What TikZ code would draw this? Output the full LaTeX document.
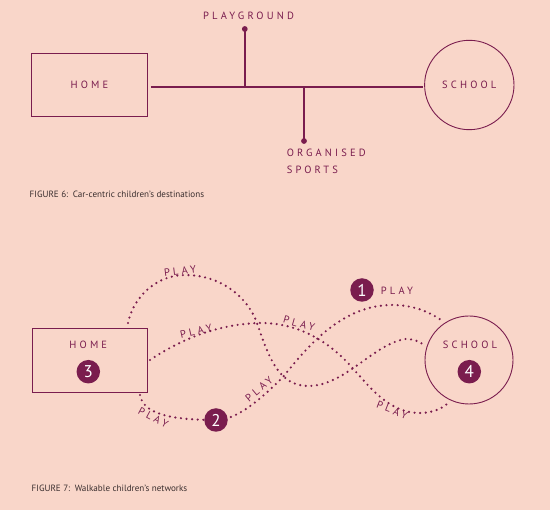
\documentclass[tikz,border=0pt]{standalone}
\usepackage{fontspec}
\setmainfont{PT Sans}
\newfontfamily\lblfont[LetterSpace=30]{PT Sans}
\newfontfamily\capfont{PT Sans}
\definecolor{bg}{HTML}{F9D6C9}
\definecolor{maroon}{HTML}{7A1D4E}
\definecolor{captxt}{HTML}{3A2E2E}
\tikzset{
  lbl/.style={font=\lblfont\fontsize{10.5}{12}\selectfont, text=maroon, inner sep=0pt},
  boxnode/.style={draw=maroon, line width=0.9pt, rectangle, inner sep=0pt, font=\lblfont\fontsize{10.5}{12}\selectfont, text=maroon},
  ringnode/.style={draw=maroon, line width=0.9pt, circle, inner sep=0pt, font=\lblfont\fontsize{10.5}{12}\selectfont, text=maroon},
  route/.style={draw=maroon, line width=1.7pt},
  enddot/.style={fill=maroon},
  badge/.style={circle, fill=maroon, text=white, minimum size=23.5pt, inner sep=0pt, font=\fontsize{17}{17}\selectfont},
  walk/.style={draw=maroon, line width=2.4pt, line cap=round, dash pattern=on 0pt off 5.6pt},
  captext/.style={font=\capfont\fontsize{9.1}{10}\selectfont, text=captxt, inner sep=0pt, anchor=west}
}
\begin{document}
\begin{tikzpicture}[x=1pt,y=-1pt]
\fill[bg] (0,0) rectangle (550,510);
\useasboundingbox (0,0) rectangle (550,510);

% ---------- Figure 6 ----------
\node[boxnode, minimum width=115.7pt, minimum height=62.7pt] (home6) at (89.5,84.7) {HOME};
\node[ringnode, minimum size=89.4pt] (school6) at (469.3,85) {SCHOOL};
\coordinate (l0) at (150.8,87.3);
\coordinate (l1) at (422.7,87.3);
\coordinate (jp) at (244.8,87.3);
\coordinate (pg) at (244.8,29);
\coordinate (js) at (304,87.3);
\coordinate (sp) at (304,141);
\draw[route] (l0) -- (l1);
\draw[route] (jp) -- (pg);
\draw[route] (js) -- (sp);
\fill[enddot] (pg) circle (2.9pt);
\fill[enddot] (sp) circle (2.9pt);
\node[lbl] (pgtxt) at (248.5,15.7) {PLAYGROUND};
\node[lbl, anchor=west] (ortxt) at (286.6,153) {ORGANISED};
\node[lbl, anchor=west] (sptxt) at (286.6,170) {SPORTS};
\node[captext] (cap6) at (29.5,194.3) {FIGURE 6:\hspace{0.5em}Car-centric children’s destinations};

% ---------- Figure 7 ----------
\node[boxnode, minimum width=115pt, minimum height=64pt] (home7) at (89.5,360) {};
\node[lbl] (home7t) at (88.3,345) {HOME};
\node[ringnode, minimum size=88pt] (school7) at (469,360) {};
\node[lbl] (school7t) at (470,345.3) {SCHOOL};

\coordinate (a0) at (128,323);
\coordinate (a1) at (185,275);
\coordinate (a2) at (257,323);
\coordinate (a3) at (308,386);
\coordinate (a4) at (405,339);
\coordinate (a5) at (424,345);
\draw[walk] (a0) .. controls (134,295) and (158,275) .. (a1)
  .. controls (222,275) and (248,298) .. (a2)
  .. controls (268,355) and (278,386) .. (a3)
  .. controls (345,386) and (372,345) .. (a4)
  .. controls (413,339) and (419,341) .. (a5);

\coordinate (b0) at (150,360);
\coordinate (b1) at (257,323);
\coordinate (b2p) at (345,360);
\coordinate (b3p) at (420,413);
\coordinate (b4p) at (447,404);
\draw[walk] (b0) .. controls (180,340) and (215,325) .. (b1)
  .. controls (290,322) and (320,335) .. (b2p)
  .. controls (365,380) and (385,413) .. (b3p)
  .. controls (432,413) and (441,409) .. (b4p);

\coordinate (c0) at (140,395);
\coordinate (c1) at (216,420);
\coordinate (c2) at (283,377);
\coordinate (c3) at (392,305);
\coordinate (c4) at (441,320);
\draw[walk] (c0) .. controls (143,412) and (165,420) .. (c1)
  .. controls (236,420) and (258,402) .. (c2)
  .. controls (305,350) and (340,305) .. (c3)
  .. controls (412,305) and (428,311) .. (c4);

\node[badge] (n3) at (88.3,371.7) {3};
\node[badge] (n4) at (469.3,371.7) {4};
\node[badge] (n2) at (216,420) {2};
\node[badge] (n1) at (362,290) {1};

\node[lbl, rotate=7] (pA) at (180,271) {PLAY};
\node[lbl, rotate=13] (pB1) at (196,331) {PLAY};
\node[lbl, rotate=-16] (pB2) at (299,323.5) {PLAY};
\node[lbl, rotate=-21] (pB3) at (392.3,410) {PLAY};
\node[lbl, rotate=-28] (pC1) at (153.3,417.3) {PLAY};
\node[lbl, rotate=40] (pC2) at (259,389) {PLAY};
\node[lbl] (p1) at (397,291) {PLAY};

\node[captext] (cap7) at (31.5,488.7) {FIGURE 7:\hspace{0.5em}Walkable children’s networks};
\end{tikzpicture}
\end{document}
